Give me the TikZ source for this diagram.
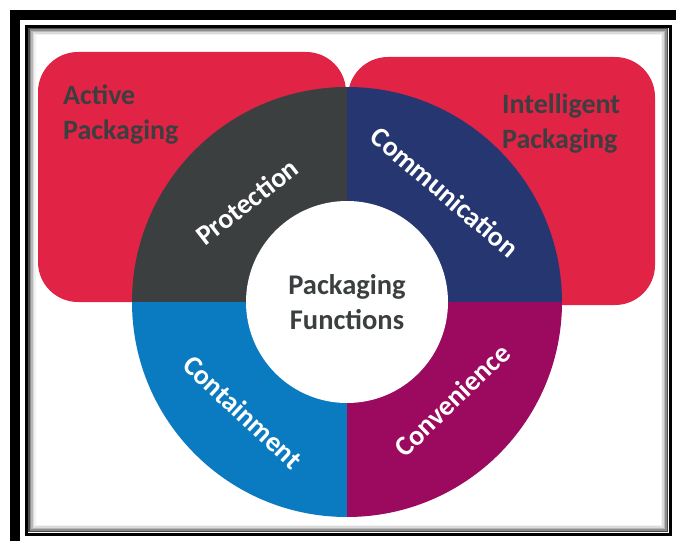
\documentclass[tikz,border=0pt]{standalone}
\usepackage{fontspec}
\setmainfont{Carlito}
\definecolor{pkred}{HTML}{E12346}
\definecolor{pkdark}{HTML}{3B3F40}
\definecolor{pknavy}{HTML}{263670}
\definecolor{pkblue}{HTML}{0A7BC0}
\definecolor{pkmag}{HTML}{9B0A5F}
\tikzset{
  redbox/.style={fill=pkred, draw=none, rounded corners=40pt},
  outerlabel/.style={text=pkdark, font=\fontsize{28}{35}\selectfont\bfseries, align=left, inner sep=0pt, anchor=north west},
  ringlabel/.style={text=white, font=\fontsize{28}{32}\selectfont\bfseries, inner sep=0pt},
  centerlabel/.style={text=pkdark, font=\fontsize{28.5}{35}\selectfont\bfseries, align=center, inner sep=0pt}
}
\begin{document}
\begin{tikzpicture}[x=1pt,y=-1pt]
\useasboundingbox (0,0) rectangle (676,540);
\clip (0,0) rectangle (676,540);
\fill[white] (0,0) rectangle (676,540);
% red boxes
\fill[redbox] (38,52) rectangle (346,302);
\fill[redbox] (348,57) rectangle (655,305);
% ring
\coordinate (c) at (347,302);
\begin{scope}
  \clip (c) circle [radius=215pt];
  \fill[pkdark] (c) rectangle (120,80);
  \fill[pknavy] (c) rectangle (570,80);
  \fill[pkblue] (c) rectangle (120,525);
  \fill[pkmag] (c) rectangle (570,525);
\end{scope}
\fill[white] (c) circle [radius=101pt];
% texts
\node[centerlabel] (center) at (347,302) {Packaging\\Functions};
\node[ringlabel, rotate=38] (prot) at (247,202) {Protection};
\node[ringlabel, rotate=-40.5] (comm) at (445,192) {Communication};
\node[ringlabel, rotate=-43] (cont) at (243,412) {Containment};
\node[ringlabel, rotate=44] (conv) at (452,400) {Convenience};
\node[outerlabel] (active) at (63,85) {Active\\Packaging};
\node[outerlabel] (intel) at (502,94) {Intelligent\\Packaging};
% frame
\draw[black, line width=10pt] (15,15) rectangle (720,600);
\foreach \d/\g in {0.75/70,2.25/45,3.75/28,5.25/14,6.75/5}{
  \draw[black!\g, line width=1.5pt] (28+\d,28+\d) rectangle (668-\d,532-\d);
}
\draw[black, line width=3.5pt] (26.5,26.5) rectangle (670.25,534.25);
\end{tikzpicture}
\end{document}
